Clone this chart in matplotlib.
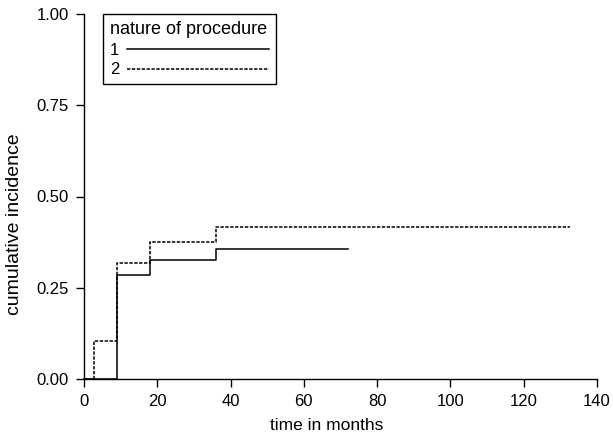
import matplotlib
matplotlib.use("Agg")
import matplotlib.pyplot as plt

# Cumulative incidence step functions by nature of procedure
months_1 = [0, 9, 18, 36, 72]
incidence_1 = [0.0, 0.285, 0.327, 0.357, 0.357]

months_2 = [0, 2.7, 9, 18, 36, 132.6]
incidence_2 = [0.0, 0.105, 0.317, 0.374, 0.417, 0.417]

x_ticks = [0, 20, 40, 60, 80, 100, 120, 140]
y_ticks = [0.00, 0.25, 0.50, 0.75, 1.00]

plt.rcParams['font.family'] = ['Liberation Sans', 'DejaVu Sans']

W, H = 613, 437
fig = plt.figure(figsize=(W / 100, H / 100), dpi=100)
ax = fig.add_axes([84 / W, 1 - 379 / H, (597 - 84) / W, (379 - 14) / H])

ax.step(months_1, incidence_1, where='post', color='black', lw=1.1,
        label='1', clip_on=False)
ax.step(months_2, incidence_2, where='post', color='black', lw=1.1,
        linestyle=(0, (2.2, 1.0)), label='2', clip_on=False)

ax.set_xlim(0, 140)
ax.set_ylim(0, 1)
ax.set_xticks(x_ticks)
ax.set_yticks(y_ticks)
ax.set_yticklabels([f"{v:.2f}" for v in y_ticks])
ax.tick_params(direction='out', length=5.5, width=1, labelsize=12,
               colors='black')
ax.tick_params(axis='x', pad=5)
ax.tick_params(axis='y', pad=5.5)

for side in ('top', 'right'):
    ax.spines[side].set_visible(False)
for side in ('left', 'bottom'):
    ax.spines[side].set_linewidth(1.0)

fig.text(327 / W, 1 - 425 / H, 'time in months', fontsize=12.5,
         ha='center', va='center')
fig.text(15 / W, 1 - 224 / H, 'cumulative incidence', fontsize=14,
         rotation=90, ha='center', va='center')

leg = ax.legend(title='nature of procedure', loc='upper left',
                bbox_to_anchor=(19 / 513, 1.0), markerfirst=False,
                handlelength=8.5, handletextpad=0.45, labelspacing=0.28,
                borderpad=0.42, fancybox=False, framealpha=1,
                edgecolor='black', fontsize=12, title_fontsize=13,
                alignment='left', borderaxespad=0)
leg.get_frame().set_linewidth(1.0)

fig.savefig('out.png', dpi=100)
